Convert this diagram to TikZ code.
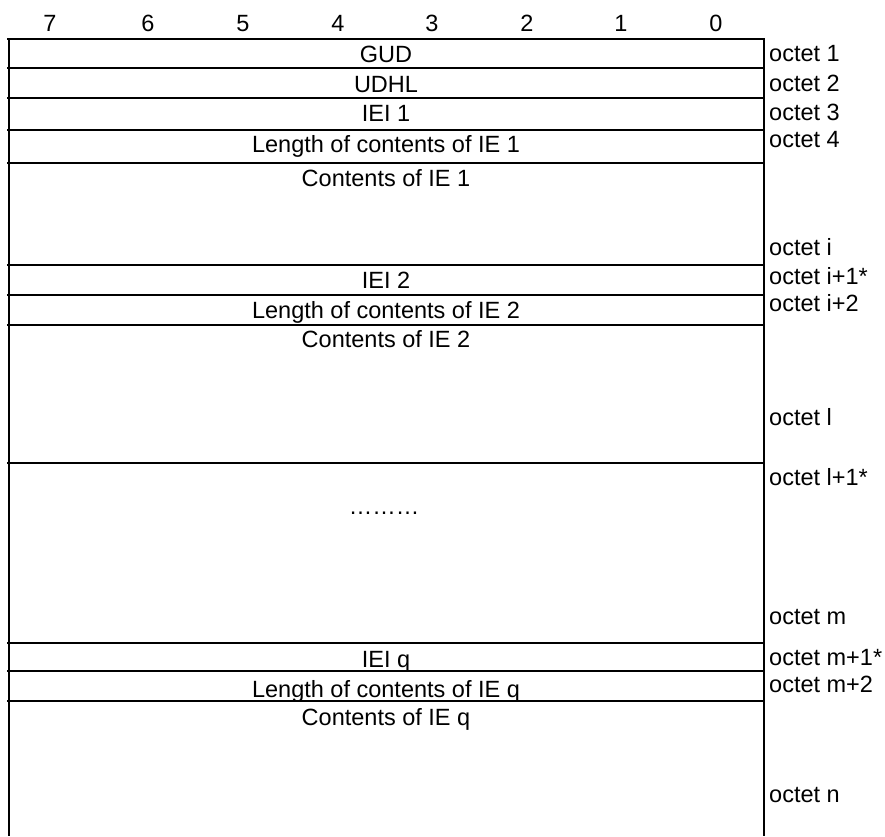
\documentclass[tikz,border=0pt]{standalone}
\usepackage{fontspec}
\setmainfont{Liberation Sans}
\begin{document}
\begin{tikzpicture}[x=1pt,y=-1pt,
  rule/.style={line width=2pt,black},
  txt/.style={anchor=base,inner sep=0pt,font=\fontsize{23.5}{28}\selectfont},
  lbl/.style={anchor=base west,inner sep=0pt,font=\fontsize{23.5}{28}\selectfont}]
\useasboundingbox[fill=white] (0,0) rectangle (885,836);
% frame
\draw[rule] (8.5,38) -- (8.5,836);
\draw[rule] (764,38) -- (764,836);
\foreach \y in {39,68,97.7,130,162.7,265,294.7,324.7,462.7,642.7,670.7,700.7}
  \draw[rule] (7,\y) -- (765,\y);
% bit numbers
\foreach \x/\b in {50/7,148/6,243/5,338/4,432/3,527/2,621/1,716/0}
  \node[txt] (b\b) at (\x,31.7) {\b};
% field texts
\node[txt] (gud) at (386,62.3) {GUD};
\node[txt] (udhl) at (386,92.7) {UDHL};
\node[txt] (iei1) at (386,121.7) {IEI 1};
\node[txt] (len1) at (386,152.7) {Length of contents of IE 1};
\node[txt] (con1) at (386,186.7) {Contents of IE 1};
\node[txt] (iei2) at (386,288.3) {IEI 2};
\node[txt] (len2) at (386,318.3) {Length of contents of IE 2};
\node[txt] (con2) at (386,347.3) {Contents of IE 2};
\node[txt] (dots) at (384,514) {\dots\dots\dots};
\node[txt] (ieiq) at (386,667.3) {IEI q};
\node[txt] (lenq) at (386,697.3) {Length of contents of IE q};
\node[txt] (conq) at (386,725.7) {Contents of IE q};
% octet labels
\node[lbl] (o1) at (769,61.7) {octet 1};
\node[lbl] (o2) at (769,91) {octet 2};
\node[lbl] (o3) at (769,120) {octet 3};
\node[lbl] (o4) at (769,147.7) {octet 4};
\node[lbl] (oi) at (769,255) {octet i};
\node[lbl] (oi1) at (769,284) {octet i+1*};
\node[lbl] (oi2) at (769,311.7) {octet i+2};
\node[lbl] (ol) at (769,425.7) {octet l};
\node[lbl] (ol1) at (769,485.7) {octet l+1*};
\node[lbl] (om) at (769,624) {octet m};
\node[lbl] (om1) at (769,665.7) {octet m+1*};
\node[lbl] (om2) at (769,692.7) {octet m+2};
\node[lbl] (on) at (769,802.7) {octet n};
\end{tikzpicture}
\end{document}
